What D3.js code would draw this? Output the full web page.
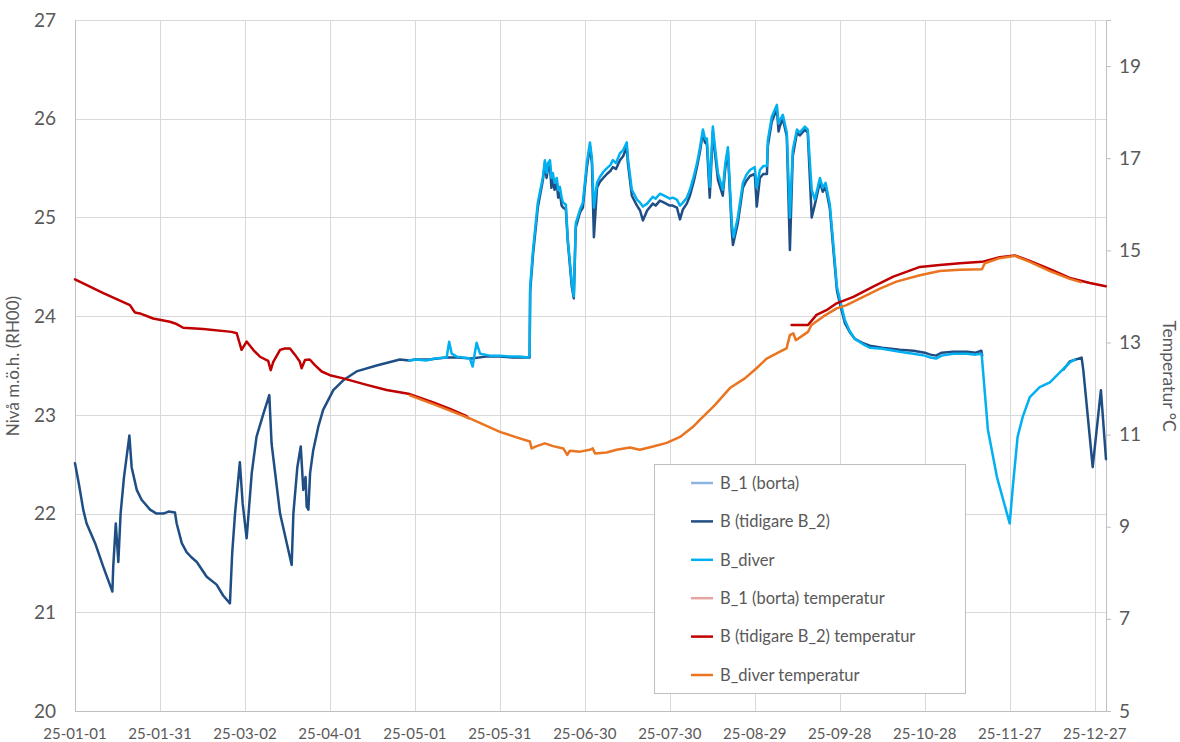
<!DOCTYPE html>
<html>
<head>
<meta charset="utf-8">
<script src="https://cdn.jsdelivr.net/npm/d3@7"></script>
<style>
  body { margin: 0; background: #ffffff; }
  svg text { font-family: Lato, "Open Sans", "Noto Sans", sans-serif; fill: #595959; }
</style>
</head>
<body>
<svg id="chart" width="1180" height="742"></svg>
<script>
// ---- Data: [day of 2025 (0 = 1 Jan), value] ----
const levelAxisTicks = [20, 21, 22, 23, 24, 25, 26, 27];
const tempAxisTicks = [5, 7, 9, 11, 13, 15, 17, 19];
const dateTickDays = [0, 30, 60, 90, 120, 150, 180, 210, 240, 270, 300, 330, 360];

// B_1 (borta) – logger removed, no readings this year
const levelB1 = [];
const tempB1 = [];

// B (tidigare B_2) – groundwater level, m.ö.h. (RH00)
const levelB = [
  [0,22.51],[1.5,22.28],[2.9,22.04],[4.1,21.9],[7.1,21.7],[10,21.46],[13.2,21.21],[13.5,21.46],
  [14.4,21.9],[15.3,21.51],[16.1,22.0],[17.3,22.37],[19.2,22.79],[20,22.47],[21.8,22.24],[23.5,22.14],
  [26.5,22.04],[28.8,22.0],[31.2,22.0],[33,22.02],[35.3,22.01],[35.9,21.9],[37.7,21.7],[39.4,21.61],
  [41,21.56],[43,21.51],[46.5,21.36],[50,21.28],[52.3,21.17],[54.7,21.09],[55.5,21.6],[56.5,22.0],
  [58.2,22.52],[59.2,22.10],[60.6,21.75],[62.4,22.41],[64.1,22.78],[66.5,23.01],[68.6,23.2],[69.4,22.71],
  [72.4,22.0],[76.5,21.48],[77.1,22.0],[78.5,22.47],[79.7,22.68],[80.6,22.24],[81.4,22.37],[81.8,22.07],
  [82.4,22.04],[83,22.41],[84.1,22.64],[85.9,22.88],[87.6,23.05],[91.2,23.25],[94.7,23.35],[99.4,23.44],
  [106.5,23.5],[114.7,23.56],[118,23.55],[120,23.56],[125,23.56],[131,23.58],[135,23.58],[140,23.57],
  [145,23.59],[150,23.59],[155,23.58],[160.5,23.58],
  [160.7,24.25],[161.7,24.62],[163.4,25.1],[165.2,25.38],[165.9,25.55],[166.5,25.4],[167,25.5],[167.7,25.52],
  [168.2,25.3],[168.7,25.4],[169.3,25.28],[170.1,25.35],[170.6,25.2],[171.2,25.25],[171.8,25.12],[172.3,25.1],
  [173.3,25.08],[174,24.75],[175.4,24.3],[176.1,24.18],[176.8,24.9],[178.3,25.05],[179.3,25.1],[180.7,25.5],
  [181.8,25.72],[182.5,25.55],[183.2,24.8],[184.3,25.3],[185.3,25.36],[186.5,25.4],[187.8,25.44],[189,25.47],
  [189.9,25.51],[191,25.49],[192.4,25.58],[193.5,25.62],[194.8,25.71],[195.2,25.55],[196.6,25.22],[198.4,25.12],
  [199.5,25.07],[200.5,24.97],[202,25.07],[204,25.14],[205,25.12],[206.5,25.17],[208,25.15],[210,25.12],
  [211,25.12],[212.5,25.1],[213.6,24.98],[214.6,25.08],[216,25.14],[217.1,25.22],[218.5,25.37],[219.6,25.51],
  [220.6,25.66],[221.7,25.86],[222.4,25.76],[223.1,25.74],[224.1,25.2],[225.2,25.87],[226,25.64],[227,25.38],
  [228.7,25.22],[229.6,25.5],[230.5,25.67],[231.9,24.85],[232.3,24.72],[234,24.94],[235.8,25.3],[237,25.37],
  [238.3,25.42],[240,25.44],[240.7,25.11],[241.8,25.4],[243,25.44],[244.3,25.44],[244.6,25.72],[246,25.97],
  [247.8,26.1],[248.4,25.87],[248.8,25.92],[249.9,26.0],[251.3,25.82],[252.4,24.67],[253.4,25.62],[254.9,25.86],
  [255.9,25.83],[257.7,25.89],[258.7,25.86],[260.1,25.0],[261.2,25.13],[263,25.36],[264,25.26],[265,25.31],
  [266.5,25.09],[267.6,24.72],[269,24.26],[270,24.13],[271.8,23.93],[273.5,23.84],[275.3,23.77],[278,23.73],
  [280.6,23.7],[285,23.68],[291.2,23.66],[296,23.65],[300,23.63],[302,23.61],[304,23.6],[306,23.63],
  [310,23.64],[315,23.64],[318,23.63],[320,23.65],[320.3,23.6],
  [335,null],
  [349,23.46],[351.2,23.54],[355.4,23.58],[356,23.45],[359.3,22.47],[362.2,23.25],[364,22.55]
];

// B_diver – groundwater level, m.ö.h. (RH00)
const levelDiver = [
  [118,23.55],[120.6,23.56],[124,23.55],[127,23.57],[131.2,23.58],[132.1,23.74],[133,23.62],[134.8,23.59],
  [137,23.58],[139.4,23.57],[140.4,23.49],[141,23.6],[141.8,23.73],[143,23.62],[146.5,23.6],[150,23.6],
  [153.5,23.59],[157,23.59],[160,23.58],[160.5,23.6],
  [160.7,24.3],[161.7,24.67],[163.4,25.15],[165.2,25.41],[165.9,25.58],[166.5,25.45],[167,25.55],[167.7,25.58],
  [168.2,25.4],[168.7,25.45],[169.3,25.35],[170.1,25.4],[170.6,25.28],[171.2,25.31],[171.8,25.2],[172.3,25.15],
  [173.3,25.13],[174,24.77],[175.4,24.34],[176.1,24.2],[176.8,24.94],[178.3,25.08],[179.3,25.15],[180.7,25.55],
  [181.8,25.76],[182.5,25.6],[183.2,25.1],[184.3,25.35],[185.3,25.41],[186.5,25.46],[187.8,25.5],[189,25.53],
  [189.9,25.58],[191,25.55],[192.4,25.65],[193.5,25.68],[194.8,25.76],[195.2,25.6],[196.6,25.28],[198.4,25.18],
  [199.5,25.15],[200.5,25.11],[202,25.14],[204,25.21],[205,25.19],[206.5,25.24],[208,25.22],[210,25.19],
  [211,25.2],[212.5,25.18],[213.6,25.12],[214.6,25.15],[216,25.2],[217.1,25.28],[218.5,25.42],[219.6,25.55],
  [220.6,25.7],[221.7,25.89],[222.4,25.8],[223.1,25.8],[224.1,25.31],[225.2,25.92],[226,25.7],[227,25.45],
  [228.7,25.28],[229.6,25.55],[230.5,25.71],[231.9,24.94],[232.5,24.8],[234,25.0],[235.8,25.35],[237,25.43],
  [238.3,25.48],[240,25.51],[240.7,25.3],[241.8,25.48],[243,25.52],[244.3,25.52],[244.6,25.78],[246,26.02],
  [247.8,26.14],[248.4,25.95],[248.8,25.98],[249.9,26.04],[251.3,25.86],[252.4,25.0],[253.4,25.68],[254.9,25.89],
  [255.9,25.86],[257.7,25.92],[258.7,25.89],[260.1,25.28],[261.2,25.18],[263,25.40],[264,25.3],[265,25.35],
  [266.5,25.13],[267.6,24.77],[269,24.3],[270,24.17],[271.8,23.96],[273.5,23.85],[275.3,23.77],[278,23.72],
  [280.6,23.68],[285,23.67],[291.2,23.64],[296,23.62],[300,23.6],[302,23.58],[304,23.57],[306,23.6],
  [310,23.62],[315,23.62],[318,23.61],[320,23.62],[320.2,23.58],[322.3,22.85],[325.5,22.37],[330,21.9],
  [331.1,22.27],[332.8,22.78],[334.6,22.98],[337.1,23.18],[340.6,23.28],[344.2,23.33],[347.7,23.43],
  [351.2,23.53],[353,23.56]
];

// B (tidigare B_2) temperatur, °C
const tempB = [
  [0,14.37],[10,14.07],[19.4,13.81],[20.6,13.70],[21.2,13.65],[22.9,13.63],[27.6,13.52],[33.5,13.45],
  [35.9,13.40],[38.2,13.32],[45.3,13.29],[55.3,13.23],[57.1,13.20],[58.8,12.84],[60.6,13.02],[62.9,12.84],
  [65.3,12.69],[68.2,12.60],[69.1,12.40],[70,12.58],[72.4,12.84],[74.1,12.87],[75.9,12.87],[77.7,12.73],
  [79.4,12.58],[80,12.44],[81.2,12.62],[82.9,12.63],[84.7,12.51],[87.1,12.37],[90,12.29],[94.7,12.22],
  [103,12.08],[110,11.97],[118.2,11.88],[126.5,11.70],[132.4,11.56],[138.3,11.40],[138.8,11.36],
  [200,null],
  [253,13.38],[258.8,13.38],[261.8,13.60],[265.3,13.70],[268.9,13.85],[274.8,13.99],[281.8,14.21],
  [288.9,14.43],[298.3,14.64],[305.3,14.68],[312.4,14.72],[320.2,14.75],[326.5,14.85],[331.8,14.89],
  [337.1,14.77],[344.2,14.59],[351.2,14.40],[358.3,14.29],[363.9,14.22]
];

// B_diver temperatur, °C
const tempDiver = [
  [118.2,11.85],[126.5,11.66],[132.4,11.52],[139.4,11.35],[150,11.06],[155.9,10.94],[160.6,10.85],[161.2,10.70],
  [163,10.75],[165.9,10.81],[168.8,10.75],[172.4,10.70],[173.8,10.56],[174.7,10.65],[178.3,10.63],[181.8,10.67],
  [182.8,10.70],[183.6,10.59],[187.7,10.61],[191.2,10.67],[195.9,10.72],[199.4,10.67],[204.1,10.74],[208.9,10.82],
  [213.6,10.95],[218.2,11.17],[220.6,11.32],[225.9,11.64],[231.2,12.01],[236.5,12.22],[240.6,12.44],[244.2,12.65],
  [248.9,12.80],[251.2,12.87],[252.4,13.16],[253.6,13.20],[254.5,13.05],[257.1,13.16],[258.8,13.23],[260,13.38],
  [264.1,13.56],[268.9,13.74],[272.4,13.81],[278.3,13.99],[284.2,14.17],[290,14.32],[298.3,14.46],[305.3,14.55],
  [312.4,14.58],[320.2,14.59],[321.2,14.72],[326.5,14.83],[331.8,14.88],[337.1,14.75],[344.2,14.55],
  [351.2,14.38],[355.1,14.31]
];

const seriesNames = [
  "B_1 (borta)", "B (tidigare B_2)", "B_diver",
  "B_1 (borta) temperatur", "B (tidigare B_2) temperatur", "B_diver temperatur"
];
const seriesColors = ["#8EB4E3", "#1F4E85", "#00B0F0", "#E6A3A1", "#C00000", "#EA7420"];

// ---- Layout ----
const svg = d3.select("#chart");
const plot = { left: 75, right: 1106, top: 20, bottom: 711 };
const startMs = Date.UTC(2025, 0, 1);
const dayToDate = d => new Date(startMs + d * 864e5);

const x = d3.scaleUtc()
  .domain([dayToDate(0), dayToDate(364)])
  .range([plot.left, plot.right]);
const yLevel = d3.scaleLinear().domain([20, 27]).range([plot.bottom, plot.top]);
const yTemp = d3.scaleLinear().domain([5, 20]).range([plot.bottom, plot.top]);

// Gridlines
const grid = svg.append("g").attr("stroke", "#d9d9d9").attr("stroke-width", 1);
grid.selectAll("line.h").data(levelAxisTicks).join("line")
  .attr("x1", plot.left).attr("x2", plot.right)
  .attr("y1", d => Math.round(yLevel(d)) + 0.5).attr("y2", d => Math.round(yLevel(d)) + 0.5);
grid.selectAll("line.v").data(dateTickDays).join("line")
  .attr("x1", d => Math.round(x(dayToDate(d))) + 0.5).attr("x2", d => Math.round(x(dayToDate(d))) + 0.5)
  .attr("y1", plot.top).attr("y2", plot.bottom);

// Axis lines
const axisColor = "#bfbfbf";
svg.append("line").attr("x1", plot.left + 0.5).attr("x2", plot.left + 0.5)
  .attr("y1", plot.top).attr("y2", plot.bottom).attr("stroke", axisColor);
svg.append("line").attr("x1", plot.left).attr("x2", plot.right)
  .attr("y1", plot.bottom + 0.5).attr("y2", plot.bottom + 0.5).attr("stroke", axisColor);

// Left axis labels
svg.append("g").selectAll("text").data(levelAxisTicks).join("text")
  .attr("x", 56).attr("y", d => yLevel(d)).attr("dy", "0.35em")
  .attr("text-anchor", "end").style("font-size", "19px")
  .text(d => d);

// Right (temperature) axis
const rightAxis = svg.append("g").attr("transform", `translate(${plot.right},0)`)
  .call(d3.axisRight(yTemp).tickValues(tempAxisTicks).tickSize(5).tickPadding(8));
rightAxis.select(".domain").attr("stroke", axisColor);
rightAxis.selectAll(".tick line").attr("stroke", axisColor);
rightAxis.selectAll(".tick text").style("font-size", "19px").attr("fill", "#595959");

// Bottom axis labels
const fmt = d3.utcFormat("%y-%m-%d");
svg.append("g").selectAll("text").data(dateTickDays).join("text")
  .attr("x", d => x(dayToDate(d))).attr("y", 739)
  .attr("text-anchor", "middle").style("font-size", "15px")
  .text(d => fmt(dayToDate(d)));

// Axis titles
svg.append("text")
  .attr("transform", "translate(19,366) rotate(-90)")
  .attr("text-anchor", "middle").style("font-size", "17px")
  .text("Nivå m.ö.h. (RH00)");
svg.append("text")
  .attr("transform", "translate(1163,376) rotate(90)")
  .attr("text-anchor", "middle").style("font-size", "17.5px")
  .text("Temperatur °C");

// Series
const levelLine = d3.line()
  .defined(d => d[1] != null)
  .x(d => x(dayToDate(d[0])))
  .y(d => yLevel(d[1]));
const tempLine = d3.line()
  .defined(d => d[1] != null)
  .x(d => x(dayToDate(d[0])))
  .y(d => yTemp(d[1]));

const series = [
  { data: levelB1, line: levelLine, color: seriesColors[0] },
  { data: levelB, line: levelLine, color: seriesColors[1] },
  { data: levelDiver, line: levelLine, color: seriesColors[2] },
  { data: tempB1, line: tempLine, color: seriesColors[3] },
  { data: tempB, line: tempLine, color: seriesColors[4] },
  { data: tempDiver, line: tempLine, color: seriesColors[5] }
];
const lines = svg.append("g");
series.forEach(s => {
  if (!s.data.length) return;
  lines.append("path")
    .attr("d", s.line(s.data))
    .attr("fill", "none")
    .attr("stroke", s.color)
    .attr("stroke-width", 2.5)
    .attr("stroke-linejoin", "round")
    .attr("stroke-linecap", "round");
});

// Legend
const legend = svg.append("g");
legend.append("rect")
  .attr("x", 654.5).attr("y", 464.5).attr("width", 311).attr("height", 229)
  .attr("fill", "#ffffff").attr("stroke", "#bfbfbf");
const legendRows = legend.selectAll("g.row").data(seriesNames).join("g")
  .attr("transform", (d, i) => `translate(0,${483 + i * 38.4})`);
legendRows.append("line")
  .attr("x1", 691).attr("x2", 713).attr("y1", 0).attr("y2", 0)
  .attr("stroke", (d, i) => seriesColors[i]).attr("stroke-width", 2.5);
legendRows.append("text")
  .attr("x", 720).attr("y", 0).attr("dy", "0.35em")
  .style("font-size", "16.5px")
  .text(d => d);
</script>
</body>
</html>
